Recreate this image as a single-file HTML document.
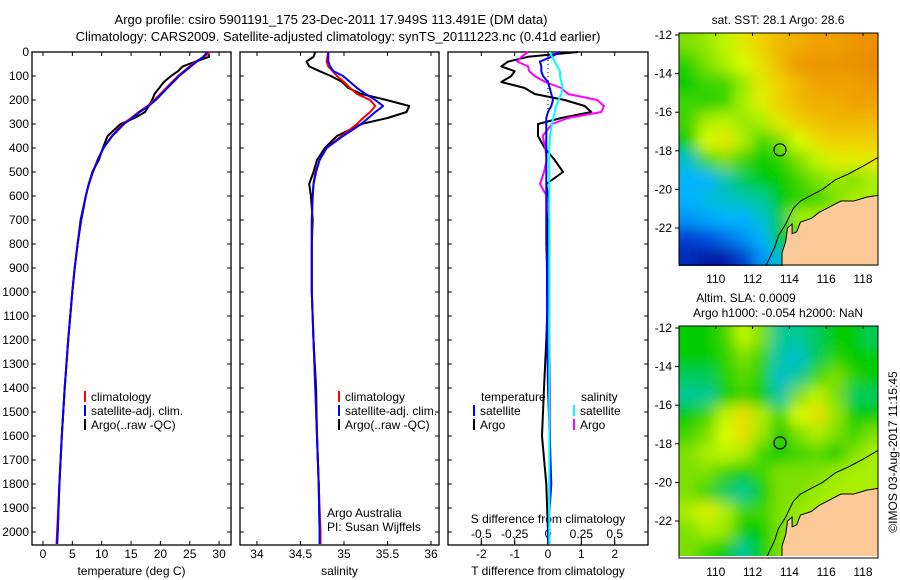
<!DOCTYPE html>
<html><head><meta charset="utf-8">
<style>
html,body{margin:0;padding:0;background:#fff;}
svg{display:block;font-family:"Liberation Sans",sans-serif;}
text{font-size:12px;fill:#000;}
</style></head>
<body>
<svg id="fig" width="900" height="580" viewBox="0 0 900 580">
<defs>
<filter id="blur" x="-10%" y="-10%" width="120%" height="120%"><feGaussianBlur stdDeviation="7"/></filter>
<clipPath id="clipTop"><rect x="679" y="33" width="199" height="233"/></clipPath>
<clipPath id="clipBot"><rect x="679" y="326" width="199" height="230"/></clipPath>
</defs>
<text x="331" y="24" text-anchor="middle" style="font-size:13px">Argo profile: csiro 5901191_175 23-Dec-2011 17.949S 113.491E (DM data)</text>
<text x="338" y="41" text-anchor="middle" style="font-size:13px">Climatology: CARS2009. Satellite-adjusted climatology: synTS_20111223.nc (0.41d earlier)</text>
<g id="plots"></g>
</svg>
<script>
const depths = [0,20,40,60,80,100,125,150,175,200,225,250,275,300,350,400,450,500,550,600,700,800,900,1000,1200,1400,1600,1800,2000,2050];
const tempClim = [28.4,27.5,26.0,25.0,24.0,23.0,22.0,21.0,20.0,19.0,17.8,16.3,15.0,13.6,11.7,10.3,9.3,8.5,7.8,7.3,6.5,5.9,5.4,5.0,4.3,3.7,3.2,2.8,2.4,2.3];
const tempSat = [28.0,27.3,26.2,25.2,24.2,23.2,22.2,21.2,20.2,19.2,18.0,16.5,15.2,13.8,11.8,10.3,9.3,8.5,7.8,7.3,6.5,5.9,5.4,5.0,4.3,3.7,3.2,2.8,2.5,2.4];
const tempArgo = [28.1,28.3,26.0,23.8,23.0,21.8,20.6,19.8,19.0,18.6,18.0,17.4,15.6,13.2,11.0,10.2,9.5,8.4,7.8,7.3,6.4,5.9,5.4,5.0,4.3,3.7,3.2,2.8,2.5,2.4];
const salClim = [34.82,34.81,34.80,34.82,34.87,34.92,35.0,35.07,35.15,35.3,35.36,35.3,35.22,35.15,34.97,34.8,34.72,34.67,34.65,34.64,34.63,34.63,34.63,34.63,34.65,34.67,34.69,34.71,34.73,34.73];
const salSat = [34.82,34.82,34.82,34.84,34.88,34.99,35.07,35.15,35.25,35.36,35.45,35.36,35.28,35.2,34.99,34.8,34.72,34.68,34.65,34.64,34.63,34.63,34.63,34.63,34.65,34.67,34.69,34.71,34.72,34.72];
const salArgo = [34.67,34.65,34.57,34.6,34.72,34.85,34.98,35.05,35.2,35.49,35.75,35.72,35.5,35.2,34.92,34.78,34.69,34.65,34.6,34.62,34.64,34.63,34.63,34.63,34.65,34.68,34.69,34.71,34.72,34.72];
const dTArgo = [0.9,-0.6,-1.2,-1.4,-1.0,-1.1,-1.4,-0.7,-0.4,0.5,1.1,1.3,0.4,-0.3,-0.3,-0.1,0.2,0.45,-0.05,0,0,0,0,0,-0.05,-0.12,-0.18,-0.05,0,0];
const dTSat = [0.36,0.1,-0.24,-0.2,-0.2,-0.15,0,0.05,0.1,0.15,0.1,0,-0.05,-0.05,-0.05,-0.05,-0.05,-0.05,-0.05,-0.05,-0.05,-0.05,-0.03,-0.03,-0.02,0,0.05,0.1,0,0];
const dSSat = [0.015,0.03,0.05,0.07,0.09,0.09,0.1,0.11,0.1,0.08,0.06,0.05,0.04,0.03,0.015,0.01,0.01,0.01,0.01,0.01,0.01,0.01,0.01,0.01,0.01,0.01,0.01,0.01,0.01,0.01];
const dSArgo = [-0.15,-0.2,-0.23,-0.15,-0.14,-0.1,-0.02,0.1,0.15,0.37,0.42,0.4,0.15,0.03,-0.04,-0.02,-0.01,-0.03,-0.06,-0.01,0.01,0.01,0.01,0.01,0.01,0.015,0.015,0.01,0.01,0.01];
const depthTicks = [0,100,200,300,400,500,600,700,800,900,1000,1100,1200,1300,1400,1500,1600,1700,1800,1900,2000];
const tempTicks = [0,5,10,15,20,25,30];
const salTicks = [34,34.5,35,35.5,36];
const tdTicks = [-2,-1,0,1,2];
const sdTicks = [-0.5,-0.25,0,0.25,0.5];
const sdTickLabels = ['-0.5','-0.25','0','0.25','0.5'];
const latTicks = [-12,-14,-16,-18,-20,-22];
const lonTicks = [110,112,114,116,118];
const sstGrid = [
[0.55,0.58,0.62,0.7,0.75,0.8,0.82,0.85,0.85,0.88,0.9],
[0.48,0.55,0.6,0.65,0.72,0.8,0.88,0.88,0.88,0.9,0.92],
[0.45,0.5,0.5,0.58,0.7,0.75,0.8,0.85,0.85,0.85,0.88],
[0.5,0.48,0.5,0.6,0.68,0.75,0.8,0.82,0.82,0.85,0.85],
[0.5,0.6,0.62,0.58,0.6,0.7,0.75,0.78,0.8,0.8,0.8],
[0.45,0.65,0.7,0.6,0.5,0.55,0.65,0.72,0.75,0.75,0.75],
[0.35,0.5,0.55,0.5,0.45,0.48,0.55,0.62,0.68,0.68,0.7],
[0.3,0.3,0.38,0.42,0.45,0.45,0.5,0.55,0.58,0.55,0.6],
[0.3,0.33,0.35,0.38,0.4,0.45,0.48,0.5,0.55,0.6,0.6],
[0.25,0.28,0.3,0.3,0.35,0.42,0.6,0.6,0.6,0.6,0.6],
[0.12,0.15,0.2,0.25,0.3,0.45,0.5,0.5,0.5,0.5,0.5],
[0.08,0.05,0.05,0.12,0.25,0.35,0.4,0.4,0.4,0.4,0.4]];
const slaGrid = [
[0.45,0.45,0.5,0.62,0.55,0.4,0.4,0.42,0.45,0.45,0.42],
[0.45,0.45,0.48,0.55,0.5,0.38,0.35,0.42,0.48,0.45,0.45],
[0.42,0.42,0.48,0.52,0.48,0.35,0.4,0.5,0.55,0.48,0.45],
[0.4,0.4,0.45,0.5,0.45,0.38,0.55,0.62,0.55,0.42,0.42],
[0.45,0.5,0.62,0.72,0.6,0.5,0.65,0.72,0.58,0.45,0.45],
[0.5,0.55,0.65,0.72,0.58,0.45,0.55,0.6,0.55,0.5,0.55],
[0.55,0.6,0.62,0.6,0.5,0.45,0.5,0.52,0.45,0.55,0.6],
[0.55,0.55,0.5,0.45,0.5,0.55,0.55,0.55,0.58,0.6,0.6],
[0.55,0.5,0.42,0.4,0.45,0.55,0.55,0.58,0.6,0.6,0.6],
[0.6,0.68,0.6,0.5,0.5,0.55,0.58,0.6,0.6,0.6,0.6],
[0.55,0.6,0.58,0.45,0.45,0.55,0.58,0.6,0.6,0.6,0.6],
[0.55,0.5,0.45,0.4,0.45,0.55,0.58,0.6,0.6,0.6,0.6]];
const landLon = [113.6,113.6,113.8,113.9,114.15,114.15,114.4,114.6,115.2,115.6,116.2,116.8,117.5,118.2,118.9,118.9];
const landLat = [-24,-23.3,-22.7,-22.0,-21.8,-22.3,-22.2,-21.7,-21.5,-21.2,-20.9,-20.6,-20.6,-20.4,-20.3,-24];
const isoLon = [112.7,113.2,113.4,113.8,114.2,114.6,115.2,115.8,116.5,117.2,118.0,118.9];
const isoLat = [-24,-23.0,-22.4,-21.8,-21.0,-20.6,-20.3,-20.0,-19.5,-19.2,-18.8,-18.3];
const floatLon = 113.49, floatLat = -17.95;

const NS='http://www.w3.org/2000/svg';
const root=document.getElementById('plots');
function mk(tag,attrs,parent){const e=document.createElementNS(NS,tag);for(const k in attrs)e.setAttribute(k,attrs[k]);(parent||root).appendChild(e);return e;}
function txt(x,y,s,anchor,parent){const t=mk('text',{x:x,y:y,'text-anchor':anchor||'start'},parent);t.textContent=s;return t;}
const yD=d=>52+d*0.24;
function lin(d0,d1,r0,r1){return v=>r0+(v-d0)/(d1-d0)*(r1-r0);}

function panel(name,x0,x1,xs,ticks,labels,title){
  const g=mk('g',{});
  
  
  const r=mk('rect',{x:x0,y:52,width:x1-x0,height:493,fill:'none',stroke:'#000','stroke-width':1.3},g);
  
  
  depthTicks.forEach(d=>{
    mk('line',{x1:x0,x2:x0+4,y1:yD(d),y2:yD(d),stroke:'#000'},g);
    mk('line',{x1:x1-4,x2:x1,y1:yD(d),y2:yD(d),stroke:'#000'},g);
  });
  if(ticks){ticks.forEach((t,i)=>{
    const x=xs(t);
    mk('line',{x1:x,x2:x,y1:52,y2:56,stroke:'#000'},g);
    mk('line',{x1:x,x2:x,y1:541,y2:545,stroke:'#000'},g);
    const lt=txt(x,558,labels[i],'middle',g);
    
    
  });}
  const tt=txt((x0+x1)/2,575,title,'middle',g);
  
  
  return g;
}
function line(g,xs,vals,color,name,w){
  const pts=depths.map((d,i)=>xs(vals[i]).toFixed(1)+','+yD(d).toFixed(1)).join(' ');
  const p=mk('polyline',{points:pts,fill:'none',stroke:color,'stroke-width':w||2,'stroke-linejoin':'round'},g);
  
  
}
function legend(g,x,y,color,label){
  mk('rect',{x:x,y:y-10,width:2,height:11,fill:color},g);
  const t=txt(x+7,y,label,'start',g);
  
  
}

// depth labels
depthTicks.forEach(d=>{const t=txt(29,yD(d)+4,String(d),'end');
  
  });

// Panel 1 temperature
const xT=lin(-1.874,32.03,32,231);
const g1=panel('temperature-panel',32,231,xT,tempTicks,tempTicks.map(String),'temperature (deg C)');
line(g1,xT,tempArgo,'#000','temp-argo-line');
line(g1,xT,tempClim,'#f00','temp-climatology-line');
line(g1,xT,tempSat,'#00f','temp-satellite-line');
legend(g1,84,401,'#f00','climatology');
legend(g1,84,415,'#00f','satellite-adj. clim.');
legend(g1,84,429,'#000','Argo(..raw -QC)');

// Panel 2 salinity
const xS=lin(33.805,36.092,240,439);
const g2=panel('salinity-panel',240,439,xS,salTicks,salTicks.map(String),'salinity');
line(g2,xS,salArgo,'#000','sal-argo-line');
line(g2,xS,salClim,'#f00','sal-climatology-line');
line(g2,xS,salSat,'#00f','sal-satellite-line');
legend(g2,338,401,'#f00','climatology');
legend(g2,338,415,'#00f','satellite-adj. clim.');
legend(g2,338,429,'#000','Argo(..raw -QC)');
const a1=txt(327,517,'Argo Australia','start',g2);


const a2=txt(327,531,'PI: Susan Wijffels','start',g2);



// Panel 3 differences
const xTd=lin(-3,3,448,648), xSd=lin(-0.75,0.75,448,648);
const g3=panel('difference-panel',448,648,xTd,tdTicks,tdTicks.map(String),'T difference from climatology');
sdTicks.forEach((t,i)=>{const x=xSd(t);
  mk('line',{x1:x,x2:x,y1:538,y2:545,stroke:'#000'},g3);
  const l=txt(x,538,sdTickLabels[i],'middle',g3);
  
  });
const st=txt(548,523,'S difference from climatology','middle',g3);


mk('line',{x1:xTd(0),x2:xTd(0),y1:52,y2:112,stroke:'#000','stroke-dasharray':'1,3'},g3);
line(g3,xTd,dTArgo,'#000','tdiff-argo-line');
line(g3,xSd,dSArgo,'#f0f','sdiff-argo-line');
line(g3,xTd,dTSat,'#00f','tdiff-satellite-line');
line(g3,xSd,dSSat,'#0ff','sdiff-satellite-line');
const lt1=txt(481,401,'temperature','start',g3);


const lt2=txt(581,401,'salinity','start',g3);


legend(g3,473,415,'#00f','satellite');
legend(g3,473,429,'#000','Argo');
legend(g3,573,415,'#0ff','satellite');
legend(g3,573,429,'#f0f','Argo');

// Maps
const stops=[[0,[0,0,140]],[0.15,[0,80,224]],[0.3,[0,180,255]],[0.4,[0,200,150]],[0.45,[0,204,0]],[0.55,[125,224,0]],[0.65,[216,255,0]],[0.75,[240,208,0]],[0.85,[240,160,0]],[1,[224,112,0]]];
function cmap(v){v=Math.max(0,Math.min(1,v));for(let i=1;i<stops.length;i++){if(v<=stops[i][0]){const a=stops[i-1],b=stops[i],t=(v-a[0])/(b[0]-a[0]);const c=a[1].map((q,k)=>Math.round(q+(b[1][k]-q)*t));return 'rgb('+c.join(',')+')';}}return 'rgb(224,112,0)';}
const xLon=lin(108,118.8,679,877.7);
function map(name,top,grid,clip,title){
  const yLat=lin(-12,-22,top+2,top+195);
  const g=mk('g',{});
  
  
  const cg=mk('g',{'clip-path':'url(#'+clip+')'},g);
  const bg=mk('g',{filter:'url(#blur)'},cg);
  const R=grid.length,C=grid[0].length;
  for(let r=-2;r<R+2;r++)for(let c=-2;c<C+2;c++){
    const v=grid[Math.max(0,Math.min(R-1,r))][Math.max(0,Math.min(C-1,c))];
    const x0=xLon(108+c),x1=xLon(109+c),y0=yLat(-12-r),y1=yLat(-13-r);
    const cell=mk('rect',{x:x0,y:y0,width:x1-x0+0.5,height:y1-y0+0.5,fill:cmap(v)},bg);
    
    
  }
  const land=mk('polygon',{points:landLon.map((l,i)=>xLon(l).toFixed(1)+','+yLat(landLat[i]).toFixed(1)).join(' '),fill:'#fcca98',stroke:'#000','stroke-width':1},cg);
  
  
  const iso=mk('polyline',{points:isoLon.map((l,i)=>xLon(l).toFixed(1)+','+yLat(isoLat[i]).toFixed(1)).join(' '),fill:'none',stroke:'#000','stroke-width':1},cg);
  
  
  const c=mk('circle',{cx:xLon(floatLon),cy:yLat(floatLat),r:6,fill:'none',stroke:'#000','stroke-width':1.2},g);
  
  
  const fr=mk('rect',{x:679,y:top,width:199,height:232,fill:'none',stroke:'#000','stroke-width':1},g);
  
  
  latTicks.forEach(l=>{const y=yLat(l);
    mk('line',{x1:675,x2:679,y1:y,y2:y,stroke:'#000'},g);
    const t=txt(672,y+4,String(l),'end',g);
    
    });
  lonTicks.forEach(l=>{const x=xLon(l);
    mk('line',{x1:x,x2:x,y1:top,y2:top+3,stroke:'#000'},g);
    const t=txt(x,top+250,String(l),'middle',g);
    
    });
  return g;
}
map('sst-map',33,sstGrid,'clipTop');
map('sla-map',326,slaGrid,'clipBot');
const m1=txt(778,24,'sat. SST: 28.1 Argo: 28.6','middle');


const m2=txt(746,302,'Altim. SLA: 0.0009','middle');


const m3=txt(778,317,'Argo h1000: -0.054 h2000: NaN','middle');


const ts=txt(0,0,'©IMOS 03-Aug-2017 11:15:45','middle');
ts.setAttribute('transform','translate(897,452) rotate(-90)');


</script>
</body></html>
